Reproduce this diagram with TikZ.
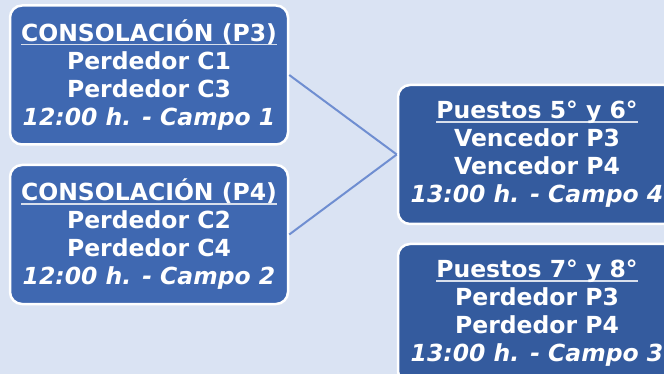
\documentclass[tikz,border=0pt]{standalone}
\usepackage{fontspec}
\setmainfont{DejaVu Sans}
\definecolor{pagebg}{HTML}{DAE3F3}
\definecolor{leftfill}{HTML}{3F68B1}
\definecolor{rightfill}{HTML}{345B9E}
\definecolor{linkblue}{HTML}{6F8ED1}
\definecolor{rulegray}{HTML}{D8DFEC}
% underlined first line of a match box
\newcommand\matchtitle[1]{\sbox0{#1}\rlap{\textcolor{rulegray}{\rule[-4pt]{\wd0}{1.6pt}}}\usebox0}

\begin{document}
\begin{tikzpicture}[x=1pt, y=1pt,
  match/.style={draw=white, line width=2.5pt, rounded corners=12pt, text=white,
    minimum width=278pt, minimum height=139pt, inner sep=0pt, align=center,
    font=\fontsize{23.5}{28}\selectfont\bfseries},
  link/.style={linkblue, line width=2pt}]
\useasboundingbox[fill=pagebg] (0,0) rectangle (664,-374);

\node[match, fill=leftfill] (p3) at (149,-75) {\matchtitle{CONSOLACIÓN (P3)}\\
  Perdedor C1\\ Perdedor C3\\ \itshape 12:00 h. - Campo 1};
\node[match, fill=leftfill] (p4) at (149,-234.5) {\matchtitle{CONSOLACIÓN (P4)}\\
  Perdedor C2\\ Perdedor C4\\ \itshape 12:00 h. - Campo 2};
\node[match, fill=rightfill] (q56) at (537,-154.5) {\matchtitle{Puestos 5° y 6°}\\
  Vencedor P3\\ Vencedor P4\\ \itshape 13:00 h. - Campo 4};
\node[match, fill=rightfill] (q78) at (537,-313.5) {\matchtitle{Puestos 7° y 8°}\\
  Perdedor P3\\ Perdedor P4\\ \itshape 13:00 h. - Campo 3};

\draw[link] (p3.east) -- (q56.west);
\draw[link] (p4.east) -- (q56.west);
\end{tikzpicture}
\end{document}
